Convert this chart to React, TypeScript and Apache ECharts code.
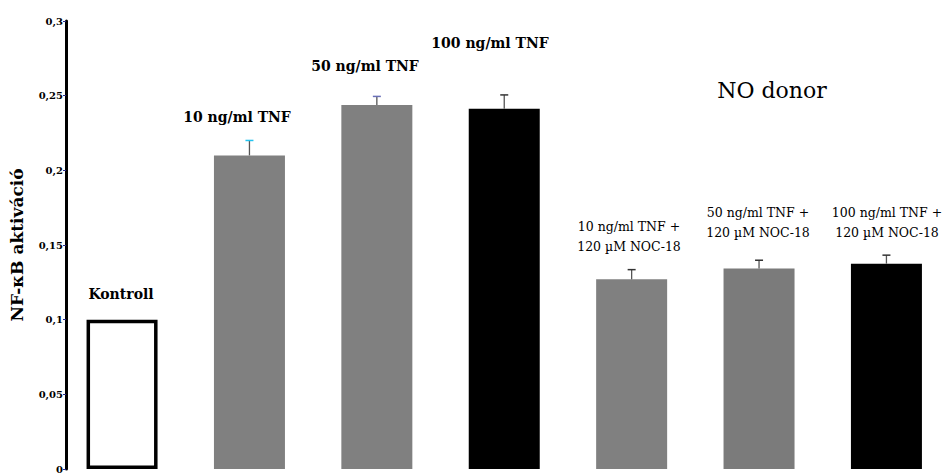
import React, { useEffect, useRef } from "react";
import * as echarts from "echarts";

const categories = [
  "Kontroll",
  "10 ng/ml TNF",
  "50 ng/ml TNF",
  "100 ng/ml TNF",
  "10 ng/ml TNF + 120 µM NOC-18",
  "50 ng/ml TNF + 120 µM NOC-18",
  "100 ng/ml TNF + 120 µM NOC-18",
];
const means = [0.1, 0.21, 0.2438, 0.2412, 0.127, 0.1342, 0.1375];
const errorTops = [null, 0.22, 0.2495, 0.2505, 0.1335, 0.1398, 0.1432];
const barColors = ["#ffffff", "#808080", "#808080", "#000000", "#808080", "#7b7b7b", "#000000"];
const capColors = ["#000", "#22c4f0", "#6a70b8", "#333", "#333", "#333", "#333"];
const yTicks = [0, 0.05, 0.1, 0.15, 0.2, 0.25, 0.3];

const SERIF = "DejaVu Serif";

export default function App() {
  const ref = useRef<HTMLDivElement>(null);
  useEffect(() => {
    if (!ref.current) return;
    const chart = echarts.init(ref.current, undefined, { renderer: "svg" });
    const barData = means.map((v, i) => ({
      value: [i, v],
      name: categories[i],
      itemStyle:
        i === 0
          ? { color: "#ffffff", borderColor: "#000", borderWidth: 3.5 }
          : { color: barColors[i] },
    }));
    const errData = errorTops
      .map((t, i) => (t == null ? null : [i, means[i], t]))
      .filter((d) => d !== null) as number[][];

    const big = { fontFamily: SERIF, fontWeight: "bold", fontSize: 14, fill: "#000", align: "center", verticalAlign: "middle" };
    const small = { fontFamily: SERIF, fontWeight: "normal", fontSize: 12.5, fill: "#000", align: "center", verticalAlign: "middle", lineHeight: 20 };

    chart.setOption({
      animation: false,
      grid: { left: 66, right: 0, top: 21, bottom: -1, containLabel: false },
      xAxis: {
        type: "value",
        min: -0.44,
        max: 6.444,
        show: false,
      },
      yAxis: {
        type: "value",
        min: yTicks[0],
        max: yTicks[yTicks.length - 1],
        interval: 0.05,
        name: "NF-κB aktiváció",
        nameLocation: "middle",
        nameGap: 41,
        nameTextStyle: { fontFamily: SERIF, fontWeight: "bold", fontSize: 17, color: "#000" },
        axisLine: { show: true, onZero: false, lineStyle: { color: "#000", width: 3 } },
        axisTick: { show: true, length: 3, lineStyle: { color: "#2a2a8a", width: 1 } },
        splitLine: { show: false },
        axisLabel: {
          fontFamily: SERIF,
          fontWeight: "bold",
          fontSize: 10,
          color: "#000",
          margin: 3,
          formatter: (v: number) => String(+v.toFixed(2)).replace(".", ","),
        },
      },
      series: [
        {
          type: "bar",
          data: barData,
          barWidth: 71,
          z: 2,
        },
        {
          type: "custom",
          z: 3,
          data: errData,
          renderItem: (params: any, api: any) => {
            const i = api.value(0);
            const base = api.coord([i, api.value(1)]);
            const top = api.coord([i, api.value(2)]);
            return {
              type: "group",
              children: [
                {
                  type: "line",
                  shape: { x1: base[0], y1: base[1], x2: top[0], y2: top[1] },
                  style: { stroke: "#555", lineWidth: 1.3 },
                },
                {
                  type: "line",
                  shape: { x1: top[0] - 4, y1: top[1], x2: top[0] + 4, y2: top[1] },
                  style: { stroke: capColors[i], lineWidth: 1.5 },
                },
              ],
            };
          },
        },
      ],
      graphic: [
        { type: "text", x: 121, y: 294, style: { ...big, text: "Kontroll" } },
        { type: "text", x: 237, y: 117, style: { ...big, text: "10 ng/ml TNF" } },
        { type: "text", x: 365, y: 66, style: { ...big, text: "50 ng/ml TNF" } },
        { type: "text", x: 490, y: 43, style: { ...big, text: "100 ng/ml TNF" } },
        { type: "text", x: 772, y: 90, style: { fontFamily: SERIF, fontWeight: "normal", fontSize: 22, fill: "#000", text: "NO donor", align: "center", verticalAlign: "middle" } },
        { type: "text", x: 629, y: 236, style: { ...small, text: "10 ng/ml TNF +\n120 µM NOC-18" } } as any,
        { type: "text", x: 758, y: 222, style: { ...small, text: "50 ng/ml TNF +\n120 µM NOC-18" } } as any,
        { type: "text", x: 887, y: 222, style: { ...small, text: "100 ng/ml TNF +\n120 µM NOC-18" } } as any,
      ],
    });
    return () => chart.dispose();
  }, []);
  return (
    <div
      ref={ref}
      style={{ position: "fixed", left: 0, top: 0, width: 943, height: 474, background: "#fff" }}
    />
  );
}
